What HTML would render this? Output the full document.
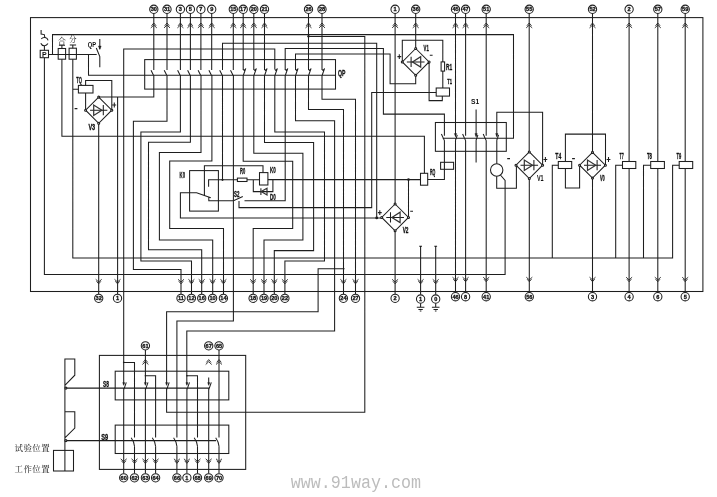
<!DOCTYPE html>
<html lang="zh">
<head>
<meta charset="utf-8">
<title>QP S1 S8 S9 wiring diagram</title>
<style>
html,body{margin:0;padding:0;background:#fff;}
body{width:717px;height:497px;overflow:hidden;}
svg{display:block;will-change:transform;}
.w{fill:none;stroke:#1e1e1e;stroke-width:1.05;stroke-linecap:butt;stroke-linejoin:miter;}
.w .thin{stroke:#222;stroke-width:0.9;}
.w .dot{fill:#1e1e1e;stroke:none;}
.w .fillk{fill:#1e1e1e;stroke-width:0.4;}
.w .di{fill:none;stroke-width:1.2;stroke:#333;}
text{font-family:"Liberation Sans","Noto Sans CJK SC",sans-serif;fill:#111;}
.lb{font-weight:bold;stroke:#111;stroke-width:0.3;}
.lb2{font-weight:bold;}
.tn{font-weight:bold;stroke:#111;stroke-width:0.3;}
.pb{font-weight:bold;}
.cj{font-family:"Liberation Serif","Noto Serif CJK SC",serif;}
.wm{font-family:"Liberation Mono",monospace;fill:#bcbcbc;}
</style>
</head>
<body>
<svg width="717" height="497" viewBox="0 0 717 497">
<g class="w">
<path d="M52.5 54.5 L52.5 34.6 L513.5 34.6 L513.5 138.2 L442.6 138.2 M48.5 54.5 L96.7 54.5 M69.8 44.9 L76.1 44.9 M72.8 44.9 L72.8 48.2 M58.9 45.2 L65 45.2 M61.9 45.2 L61.9 48.5 M44.4 50.3 L44.4 46 M41.1 30 L41.1 34 L44.3 34.6 L44.9 37.8 M44.4 57.7 L44.4 274.4 L505.1 274.4 L505.1 180.4 L500.4 175 M61.9 59.2 L61.9 136.2 L424.4 136.2 L424.4 173.3 M72.8 59.2 L72.8 257.9 L672.6 257.9 L672.6 165.2 L679.2 165.2 M99.8 39 L99.8 49 M96.3 48 L99.8 56.6 L99.8 67.3 M88.5 54.5 L88.5 75.2 L335.5 75.2 M72.8 89.3 L78.4 89.3 M85.6 85.4 L85.6 80.4 L111.8 80.4 L111.8 110.2 M85.6 93 L85.6 110.2 M98.7 97.1 L111.8 110.2 L98.7 123.3 L85.6 110.2 L98.7 97.1 M90.05 110.2 L107.35 110.2 M103.3 105.1 L103.3 115.3 M153.8 75.7 L153.8 96.9 L98.7 96.9 M117.6 96.9 L117.6 294.2 M98.7 123.3 L98.7 294.2 M274.8 69.3 L274.8 49 L123.7 49 L123.7 384.6 M153.8 13.5 L153.8 70 M167 13.5 L167 70 M180.4 13.5 L180.4 70 M190.4 13.5 L190.4 70 M200.9 13.5 L200.9 70 M211.7 13.5 L211.7 70 M233.3 13.5 L233.3 70 M151 70.2 L153.8 75.7 M164.2 70.2 L167 75.7 M177.6 70.2 L180.4 75.7 M187.6 70.2 L190.4 75.7 M198.1 70.2 L200.9 75.7 M208.9 70.2 L211.7 75.7 M219.7 70.2 L222.5 75.7 M230.5 70.2 L233.3 75.7 M243.2 13.5 L243.2 70 M253.8 13.5 L253.8 70 M264.5 13.5 L264.5 70 M308.5 13.5 L308.5 70 M322 13.5 L322 70 M243.2 69.4 L244.1 70.3 L245.6 69 M245.8 68.4 L243.2 75.7 M253.8 69.4 L254.7 70.3 L256.2 69 M256.4 68.4 L253.8 75.7 M264.5 69.4 L265.4 70.3 L266.9 69 M267.1 68.4 L264.5 75.7 M274.8 69.4 L275.7 70.3 L277.2 69 M277.4 68.4 L274.8 75.7 M285.2 69.4 L286.1 70.3 L287.6 69 M287.8 68.4 L285.2 75.7 M295.5 69.4 L296.4 70.3 L297.9 69 M298.1 68.4 L295.5 75.7 M308.5 69.4 L309.4 70.3 L310.9 69 M311.1 68.4 L308.5 75.7 M322 69.4 L322.9 70.3 L324.4 69 M324.6 68.4 L322 75.7 M376.7 217.9 L376.7 43.2 L222.5 43.2 L222.5 70 M285.2 70 L285.2 48.5 L383.4 48.5 L383.4 114.1 L444.4 114.1 L444.4 135.7 M295.5 70 L295.5 53.9 L390.1 53.9 L390.1 83.8 L415.7 83.8 L415.7 75.3 M308.5 36.5 L364.8 36.5 L364.8 412.2 L166.6 412.2 L166.6 388.2 M167 75.7 L167 121.2 L133.4 121.2 L133.4 269.4 L181 269.4 L181 294.2 M180.4 75.7 L180.4 132 L140.9 132 L140.9 261 L191.5 261 L191.5 294.2 M190.4 75.7 L190.4 142.2 L148.5 142.2 L148.5 249.8 L201.7 249.8 L201.7 294.2 M201 75.7 L201 152.5 L159.4 152.5 L159.4 240 L212.7 240 L212.7 294.2 M211.9 75.7 L211.9 161 L169.7 161 L169.7 228.5 L223.5 228.5 L223.5 294.2 M222.5 75.7 L222.5 179.8 M233.4 75.7 L233.4 321 L176.9 321 L176.9 437.6 M243.2 75.7 L243.2 161.3 L292.7 161.3 L292.7 228.5 L253.2 228.5 L253.2 294.2 M253.8 75.7 L253.8 153.3 L302.9 153.3 L302.9 239.9 L264 239.9 L264 294.2 M264.5 75.7 L264.5 142.4 L313.6 142.4 L313.6 250.6 L274.3 250.6 L274.3 294.2 M274.8 75.7 L274.8 132 L324.5 132 L324.5 261 L284.9 261 L284.9 294.2 M285.2 75.7 L285.2 200.8 L244.5 200.8 M295.5 75.7 L295.5 120.7 L334.6 120.7 L334.6 331 L186.8 331 L186.8 384.6 M308.5 75.7 L308.5 109.4 L343.5 109.4 L343.5 294.2 M322 75.7 L322 99.3 L355.5 99.3 L355.5 294.2 M344.6 268.8 L318.1 268.8 L318.1 311.8 L166.6 311.8 L166.6 384.6 M204.4 195.3 L204.4 165.7 L263 165.7 L263 172.6 M381.8 217.9 L180.4 217.9 L180.4 192.7 L196.6 192.7 L210.8 197.8 M208.6 186.8 L208.6 179.8 L237.4 179.8 M247 179.8 L259.5 179.8 M267.9 179.6 L420.5 179.6 M208.8 196.8 L208.8 200.7 L233.5 200.7 L242.8 196.4 M239 201 L239 207.6 L371.7 207.6 L371.7 92.5 L436.2 92.5 M253.3 179.8 L253.3 191.6 L272.9 191.6 L272.9 179.6 M260.9 188.3 L260.9 195 M415.7 48.5 L429.1 61.9 L415.7 75.3 L402.3 61.9 L415.7 48.5 M406.86 61.9 L424.54 61.9 M411.1 56.8 L411.1 67 M415.7 13.5 L415.7 48.5 M402.3 61.9 L402.3 40.2 L442.8 40.2 L442.8 61.9 M442.8 71.1 L442.8 88 M429.1 61.9 L429.1 100.6 L442.3 100.6 L442.3 96.1 M395.1 13.5 L395.1 204 M395.1 204 L408.5 217.4 L395.1 230.8 L381.7 217.4 L395.1 204 M386.26 217.4 L403.94 217.4 M390.5 212.3 L390.5 222.5 M395.1 230.8 L395.1 294.2 M408.5 179.6 L408.5 217.4 M427.7 179.4 L444.4 179.4 L444.4 169.3 M441.4 134 L444.4 140.6 M444.4 140.4 L444.4 169.3 M455.5 13.5 L455.5 136.4 M457.3 134.9 L455.4 140.5 M455.5 140.3 L455.5 292.5 M465.6 13.5 L465.6 135.7 M462.6 134 L465.6 140.6 M465.6 140.4 L465.6 292.5 M476.1 109.6 L476.1 136.4 M477.9 134.9 L476 140.5 M476.1 140.3 L476.1 162.6 M486.2 13.5 L486.2 135.7 M483.2 134 L486.2 140.6 M486.2 140.4 L486.2 292.5 M496.8 136.4 L496.8 112.3 L542.6 112.3 L542.6 165.2 M498.6 134.9 L496.7 140.5 M496.8 140.3 L496.8 163.8 M496.7 176.2 L496.7 188.2 L516.4 188.2 L516.4 165.2 M529.3 151.9 L542.6 165.2 L529.3 178.5 L516 165.2 L529.3 151.9 M520.52 165.2 L538.08 165.2 M533.9 160.1 L533.9 170.3 M529.2 13.5 L529.2 152 M529.3 178.5 L529.3 292.5 M558.3 165.2 L552.3 165.2 L552.3 257.9 M565.4 161.5 L565.4 134.1 L605.5 134.1 L605.5 165.2 M565.4 168.5 L565.4 187.9 L579.6 187.9 L579.6 165.2 M592.5 152.3 L605.4 165.2 L592.5 178.1 L579.6 165.2 L592.5 152.3 M583.99 165.2 L601.01 165.2 M597.1 160.1 L597.1 170.3 M592.5 13.5 L592.5 152.3 M592.5 178.1 L592.5 292.5 M629.1 13.5 L629.1 161.5 M629.1 168.5 L629.1 292.5 M622.5 165.2 L615.7 165.2 L615.7 257.9 M657.8 13.5 L657.8 161.5 M657.8 168.5 L657.8 292.5 M650.7 165.2 L643.5 165.2 L643.5 257.9 M685.2 13.5 L685.2 161.5 M685.2 168.5 L685.2 292.5 M419.2 246.2 L422 246.2 M420.6 246.2 L420.6 294.8 M420.6 303.2 L420.6 307.3 M416.8 307.3 L424.4 307.3 M418.4 309.4 L422.8 309.4 M419.8 311 L421.4 311 M434.3 246.2 L437.1 246.2 M435.7 246.2 L435.7 294.8 M435.7 303.2 L435.7 307.3 M431.9 307.3 L439.5 307.3 M433.5 309.4 L437.9 309.4 M434.9 311 L436.5 311 M66.9 388.1 L209 388.1 M66.9 440.6 L216 440.6 M126.3 382.3 L123.7 389.9 M148 382.3 L145.4 389.9 M169.2 382.3 L166.6 389.9 M189.5 382.3 L186.9 389.9 M211.3 382.3 L208.7 389.9 M123.7 388.1 L123.7 473.6 M123.7 362.4 L134.5 362.4 L134.5 437.6 M145.4 350 L145.4 384.6 M145.4 388.1 L145.4 473.6 M145.4 375.8 L155.6 375.8 L155.6 437.6 M186.9 388.1 L186.9 473.6 M186.9 375.8 L197.5 375.8 L197.5 437.6 M208.7 377.5 L208.7 384.6 M208.7 388.1 L208.7 473.6 M219 350 L219 437.6 M134.5 446.2 L134.5 473.6 M155.6 446.2 L155.6 473.6 M176.9 446.2 L176.9 473.6 M197.5 446.2 L197.5 473.6 M219 446.2 L219 473.6 M64.9 471 L64.9 358.9 L74.8 358.9 L74.8 375.2 L64.9 385.4 M64.9 411.7 L74.8 411.7 L74.8 428.1 L64.9 437.8 M74.6 108.6 L77.4 108.6 M112.4 105 L116.2 105 M114.3 102.6 L114.3 107.4 M397.4 56.6 L401.2 56.6 M399.3 54.2 L399.3 59 M429.8 55.3 L432.6 55.3 M377.9 212.6 L381.7 212.6 M379.8 210.2 L379.8 215 M410.2 211.3 L413 211.3 M507.2 158.6 L510 158.6 M543.5 159.5 L547.3 159.5 M545.4 157.1 L545.4 161.9 M572.1 158.6 L574.9 158.6 M606.6 159.5 L610.4 159.5 M608.5 157.1 L608.5 161.9"/>
<path class="thin" d="M151.5 25.8 L153.8 23 L156.1 25.8 M150.8 27.9 L153.8 25.1 L156.8 27.9 M164.7 25.8 L167 23 L169.3 25.8 M164 27.9 L167 25.1 L170 27.9 M178.1 25.8 L180.4 23 L182.7 25.8 M177.4 27.9 L180.4 25.1 L183.4 27.9 M188.1 25.8 L190.4 23 L192.7 25.8 M187.4 27.9 L190.4 25.1 L193.4 27.9 M198.6 25.8 L200.9 23 L203.2 25.8 M197.9 27.9 L200.9 25.1 L203.9 27.9 M209.4 25.8 L211.7 23 L214 25.8 M208.7 27.9 L211.7 25.1 L214.7 27.9 M231 25.8 L233.3 23 L235.6 25.8 M230.3 27.9 L233.3 25.1 L236.3 27.9 M240.9 25.8 L243.2 23 L245.5 25.8 M240.2 27.9 L243.2 25.1 L246.2 27.9 M251.5 25.8 L253.8 23 L256.1 25.8 M250.8 27.9 L253.8 25.1 L256.8 27.9 M262.2 25.8 L264.5 23 L266.8 25.8 M261.5 27.9 L264.5 25.1 L267.5 27.9 M306.2 25.8 L308.5 23 L310.8 25.8 M305.5 27.9 L308.5 25.1 L311.5 27.9 M319.7 25.8 L322 23 L324.3 25.8 M319 27.9 L322 25.1 L325 27.9 M392.8 25.8 L395.1 23 L397.4 25.8 M392.1 27.9 L395.1 25.1 L398.1 27.9 M413.4 25.8 L415.7 23 L418 25.8 M412.7 27.9 L415.7 25.1 L418.7 27.9 M453.2 25.8 L455.5 23 L457.8 25.8 M452.5 27.9 L455.5 25.1 L458.5 27.9 M463.3 25.8 L465.6 23 L467.9 25.8 M462.6 27.9 L465.6 25.1 L468.6 27.9 M483.9 25.8 L486.2 23 L488.5 25.8 M483.2 27.9 L486.2 25.1 L489.2 27.9 M526.9 25.8 L529.2 23 L531.5 25.8 M526.2 27.9 L529.2 25.1 L532.2 27.9 M590.2 25.8 L592.5 23 L594.8 25.8 M589.5 27.9 L592.5 25.1 L595.5 27.9 M626.8 25.8 L629.1 23 L631.4 25.8 M626.1 27.9 L629.1 25.1 L632.1 27.9 M655.5 25.8 L657.8 23 L660.1 25.8 M654.8 27.9 L657.8 25.1 L660.8 27.9 M682.9 25.8 L685.2 23 L687.5 25.8 M682.2 27.9 L685.2 25.1 L688.2 27.9 M95.7 279.3 L98.7 282 L101.7 279.3 M96.5 281.3 L98.7 283.8 L100.9 281.3 M114.5 279.3 L117.5 282 L120.5 279.3 M115.3 281.3 L117.5 283.8 L119.7 281.3 M178 279.3 L181 282 L184 279.3 M178.8 281.3 L181 283.8 L183.2 281.3 M188.4 279.3 L191.4 282 L194.4 279.3 M189.2 281.3 L191.4 283.8 L193.6 281.3 M198.7 279.3 L201.7 282 L204.7 279.3 M199.5 281.3 L201.7 283.8 L203.9 281.3 M209.6 279.3 L212.6 282 L215.6 279.3 M210.4 281.3 L212.6 283.8 L214.8 281.3 M220.4 279.3 L223.4 282 L226.4 279.3 M221.2 281.3 L223.4 283.8 L225.6 281.3 M250.1 279.3 L253.1 282 L256.1 279.3 M250.9 281.3 L253.1 283.8 L255.3 281.3 M261 279.3 L264 282 L267 279.3 M261.8 281.3 L264 283.8 L266.2 281.3 M271.3 279.3 L274.3 282 L277.3 279.3 M272.1 281.3 L274.3 283.8 L276.5 281.3 M281.9 279.3 L284.9 282 L287.9 279.3 M282.7 281.3 L284.9 283.8 L287.1 281.3 M340.4 279.3 L343.4 282 L346.4 279.3 M341.2 281.3 L343.4 283.8 L345.6 281.3 M352.5 279.3 L355.5 282 L358.5 279.3 M353.3 281.3 L355.5 283.8 L357.7 281.3 M392.1 279.3 L395.1 282 L398.1 279.3 M392.9 281.3 L395.1 283.8 L397.3 281.3 M417.6 279.3 L420.6 282 L423.6 279.3 M418.4 281.3 L420.6 283.8 L422.8 281.3 M432.7 279.3 L435.7 282 L438.7 279.3 M433.5 281.3 L435.7 283.8 L437.9 281.3 M452.5 277.2 L455.5 279.9 L458.5 277.2 M453.3 279.2 L455.5 281.7 L457.7 279.2 M462.6 277.2 L465.6 279.9 L468.6 277.2 M463.4 279.2 L465.6 281.7 L467.8 279.2 M483.2 277.2 L486.2 279.9 L489.2 277.2 M484 279.2 L486.2 281.7 L488.4 279.2 M526.3 277.2 L529.3 279.9 L532.3 277.2 M527.1 279.2 L529.3 281.7 L531.5 279.2 M589.5 277.2 L592.5 279.9 L595.5 277.2 M590.3 279.2 L592.5 281.7 L594.7 279.2 M626.1 277.2 L629.1 279.9 L632.1 277.2 M626.9 279.2 L629.1 281.7 L631.3 279.2 M654.8 277.2 L657.8 279.9 L660.8 277.2 M655.6 279.2 L657.8 281.7 L660 279.2 M682.2 277.2 L685.2 279.9 L688.2 277.2 M683 279.2 L685.2 281.7 L687.4 279.2 M143.1 362.4 L145.4 359.6 L147.7 362.4 M142.4 364.5 L145.4 361.7 L148.4 364.5 M206.4 362.4 L208.7 359.6 L211 362.4 M205.7 364.5 L208.7 361.7 L211.7 364.5 M216.7 362.4 L219 359.6 L221.3 362.4 M216 364.5 L219 361.7 L222 364.5 M120.7 458.8 L123.7 461.5 L126.7 458.8 M121.5 460.8 L123.7 463.3 L125.9 460.8 M131.5 458.8 L134.5 461.5 L137.5 458.8 M132.3 460.8 L134.5 463.3 L136.7 460.8 M142.4 458.8 L145.4 461.5 L148.4 458.8 M143.2 460.8 L145.4 463.3 L147.6 460.8 M152.6 458.8 L155.6 461.5 L158.6 458.8 M153.4 460.8 L155.6 463.3 L157.8 460.8 M173.9 458.8 L176.9 461.5 L179.9 458.8 M174.7 460.8 L176.9 463.3 L179.1 460.8 M183.9 458.8 L186.9 461.5 L189.9 458.8 M184.7 460.8 L186.9 463.3 L189.1 460.8 M194.5 458.8 L197.5 461.5 L200.5 458.8 M195.3 460.8 L197.5 463.3 L199.7 460.8 M205.7 458.8 L208.7 461.5 L211.7 458.8 M206.5 460.8 L208.7 463.3 L210.9 460.8 M216 458.8 L219 461.5 L222 458.8 M216.8 460.8 L219 463.3 L221.2 460.8"/>
<rect x="30.5" y="17.6" width="672.4" height="273.9"/>
<rect x="40.2" y="50.3" width="8.3" height="7.4"/>
<rect x="58.2" y="48.5" width="7.4" height="10.7"/>
<rect x="69.1" y="48.2" width="7.3" height="11"/>
<path d="M41.3 38.9 A3.9 3.9 0 0 1 48.1 40.3"/>
<path d="M47.9 43.6 A3.9 3.9 0 0 1 40.8 43.2"/>
<path class="fillk" d="M98.4 46.0 L99.8 49.6 L101.2 46.0 Z"/>
<rect x="78.4" y="85.4" width="14.6" height="7.6"/>
<circle cx="98.7" cy="97.1" r="1" fill="#fff"/>
<circle cx="111.8" cy="110.2" r="1" fill="#fff"/>
<circle cx="98.7" cy="123.3" r="1" fill="#fff"/>
<circle cx="85.6" cy="110.2" r="1" fill="#fff"/>
<path class="di" d="M93.7 105 L93.7 115.4 L101.9 110.2 Z"/>
<rect x="144.7" y="59.6" width="190.8" height="29.5"/>
<circle class="dot" cx="308.5" cy="36.3" r="1.2"/>
<rect x="189.6" y="170.6" width="28.8" height="40.5"/>
<circle class="dot" cx="376.7" cy="217.9" r="1.4"/>
<circle class="dot" cx="222.5" cy="179.8" r="1.1"/>
<rect x="237.4" y="178.1" width="9.6" height="3.4"/>
<rect x="259.5" y="172.6" width="8.4" height="12.4"/>
<path class="di" d="M267 188.3 L267 195 L261.2 191.6 Z"/>
<circle cx="415.7" cy="48.5" r="1" fill="#fff"/>
<circle cx="429.1" cy="61.9" r="1" fill="#fff"/>
<circle cx="415.7" cy="75.3" r="1" fill="#fff"/>
<circle cx="402.3" cy="61.9" r="1" fill="#fff"/>
<path class="di" d="M420.7 56.7 L420.7 67.1 L412.5 61.9 Z"/>
<rect x="441.1" y="61.9" width="3.5" height="9.2"/>
<rect x="436.2" y="88" width="13.3" height="8.1"/>
<circle cx="395.1" cy="204" r="1" fill="#fff"/>
<circle cx="408.5" cy="217.4" r="1" fill="#fff"/>
<circle cx="395.1" cy="230.8" r="1" fill="#fff"/>
<circle cx="381.7" cy="217.4" r="1" fill="#fff"/>
<path class="di" d="M400.1 212.2 L400.1 222.6 L391.9 217.4 Z"/>
<circle class="dot" cx="408.5" cy="179.6" r="1.3"/>
<rect x="420.5" y="173.3" width="7.2" height="11.9"/>
<rect x="440.6" y="162.3" width="13" height="7"/>
<rect x="435.4" y="122.5" width="70.9" height="28.8"/>
<path class="fillk" d="M454.3 133.6 L455.5 136.6 L456.7 133.6 Z"/>
<path class="fillk" d="M474.9 133.6 L476.1 136.6 L477.3 133.6 Z"/>
<path class="fillk" d="M495.6 133.6 L496.8 136.6 L498 133.6 Z"/>
<circle cx="496.7" cy="170" r="6.2"/>
<circle cx="529.3" cy="151.9" r="1" fill="#fff"/>
<circle cx="542.6" cy="165.2" r="1" fill="#fff"/>
<circle cx="529.3" cy="178.5" r="1" fill="#fff"/>
<circle cx="516" cy="165.2" r="1" fill="#fff"/>
<path class="di" d="M524.3 160 L524.3 170.4 L532.5 165.2 Z"/>
<rect x="558.3" y="161.5" width="13.4" height="7"/>
<circle cx="592.5" cy="152.3" r="1" fill="#fff"/>
<circle cx="605.4" cy="165.2" r="1" fill="#fff"/>
<circle cx="592.5" cy="178.1" r="1" fill="#fff"/>
<circle cx="579.6" cy="165.2" r="1" fill="#fff"/>
<path class="di" d="M587.5 160 L587.5 170.4 L595.7 165.2 Z"/>
<rect x="622.5" y="161.5" width="13.3" height="7"/>
<rect x="650.7" y="161.5" width="13.7" height="7"/>
<rect x="679.2" y="161.5" width="13.5" height="7"/>
<circle cx="98.7" cy="298.3" r="4.15" fill="#fff"/>
<circle cx="117.5" cy="298.3" r="4.15" fill="#fff"/>
<circle cx="181" cy="298.3" r="4.15" fill="#fff"/>
<circle cx="191.4" cy="298.3" r="4.15" fill="#fff"/>
<circle cx="201.7" cy="298.3" r="4.15" fill="#fff"/>
<circle cx="212.6" cy="298.3" r="4.15" fill="#fff"/>
<circle cx="223.4" cy="298.3" r="4.15" fill="#fff"/>
<circle cx="253.1" cy="298.3" r="4.15" fill="#fff"/>
<circle cx="264" cy="298.3" r="4.15" fill="#fff"/>
<circle cx="274.3" cy="298.3" r="4.15" fill="#fff"/>
<circle cx="284.9" cy="298.3" r="4.15" fill="#fff"/>
<circle cx="343.4" cy="298.3" r="4.15" fill="#fff"/>
<circle cx="355.5" cy="298.3" r="4.15" fill="#fff"/>
<circle cx="395.1" cy="298.3" r="4.15" fill="#fff"/>
<circle cx="420.6" cy="299" r="4.15" fill="#fff"/>
<circle cx="435.7" cy="299" r="4.15" fill="#fff"/>
<circle cx="455.5" cy="296.7" r="4.15" fill="#fff"/>
<circle cx="465.6" cy="296.7" r="4.15" fill="#fff"/>
<circle cx="486.2" cy="296.7" r="4.15" fill="#fff"/>
<circle cx="529.3" cy="296.7" r="4.15" fill="#fff"/>
<circle cx="592.5" cy="296.7" r="4.15" fill="#fff"/>
<circle cx="629.1" cy="296.7" r="4.15" fill="#fff"/>
<circle cx="657.8" cy="296.7" r="4.15" fill="#fff"/>
<circle cx="685.2" cy="296.7" r="4.15" fill="#fff"/>
<circle cx="153.8" cy="9.3" r="4.15" fill="#fff"/>
<circle cx="167" cy="9.3" r="4.15" fill="#fff"/>
<circle cx="180.4" cy="9.3" r="4.15" fill="#fff"/>
<circle cx="190.4" cy="9.3" r="4.15" fill="#fff"/>
<circle cx="200.9" cy="9.3" r="4.15" fill="#fff"/>
<circle cx="211.7" cy="9.3" r="4.15" fill="#fff"/>
<circle cx="233.3" cy="9.3" r="4.15" fill="#fff"/>
<circle cx="243.2" cy="9.3" r="4.15" fill="#fff"/>
<circle cx="253.8" cy="9.3" r="4.15" fill="#fff"/>
<circle cx="264.5" cy="9.3" r="4.15" fill="#fff"/>
<circle cx="308.5" cy="9.3" r="4.15" fill="#fff"/>
<circle cx="322" cy="9.3" r="4.15" fill="#fff"/>
<circle cx="395.1" cy="9.3" r="4.15" fill="#fff"/>
<circle cx="415.7" cy="9.3" r="4.15" fill="#fff"/>
<circle cx="455.5" cy="9.3" r="4.15" fill="#fff"/>
<circle cx="465.6" cy="9.3" r="4.15" fill="#fff"/>
<circle cx="486.2" cy="9.3" r="4.15" fill="#fff"/>
<circle cx="529.2" cy="9.3" r="4.15" fill="#fff"/>
<circle cx="592.5" cy="9.3" r="4.15" fill="#fff"/>
<circle cx="629.1" cy="9.3" r="4.15" fill="#fff"/>
<circle cx="657.8" cy="9.3" r="4.15" fill="#fff"/>
<circle cx="685.2" cy="9.3" r="4.15" fill="#fff"/>
<rect x="99.4" y="355.4" width="146.3" height="114"/>
<rect x="115.2" y="371.2" width="113.6" height="28.7"/>
<rect x="115.2" y="425.1" width="113.6" height="28.4"/>
<path class="fillk" d="M122.7 382.6 L123.7 385.4 L124.7 382.6 Z"/>
<path class="fillk" d="M144.4 382.6 L145.4 385.4 L146.4 382.6 Z"/>
<path class="fillk" d="M165.6 382.6 L166.6 385.4 L167.6 382.6 Z"/>
<path class="fillk" d="M185.9 382.6 L186.9 385.4 L187.9 382.6 Z"/>
<path class="fillk" d="M207.7 382.6 L208.7 385.4 L209.7 382.6 Z"/>
<circle class="dot" cx="123.7" cy="362.4" r="0.8"/>
<circle class="dot" cx="145.4" cy="375.8" r="0.8"/>
<circle class="dot" cx="186.9" cy="375.8" r="0.8"/>
<path d="M131.2 437.8 Q133.9 441.5 134.5 446.2"/>
<path d="M152.3 437.8 Q155 441.5 155.6 446.2"/>
<path d="M173.6 437.8 Q176.3 441.5 176.9 446.2"/>
<path d="M194.2 437.8 Q196.9 441.5 197.5 446.2"/>
<path d="M215.7 437.8 Q218.4 441.5 219 446.2"/>
<circle cx="145.4" cy="345.8" r="4.15" fill="#fff"/>
<circle cx="208.7" cy="345.8" r="4.15" fill="#fff"/>
<circle cx="219" cy="345.8" r="4.15" fill="#fff"/>
<circle cx="123.7" cy="477.8" r="4.15" fill="#fff"/>
<circle cx="134.5" cy="477.8" r="4.15" fill="#fff"/>
<circle cx="145.4" cy="477.8" r="4.15" fill="#fff"/>
<circle cx="155.6" cy="477.8" r="4.15" fill="#fff"/>
<circle cx="176.9" cy="477.8" r="4.15" fill="#fff"/>
<circle cx="186.9" cy="477.8" r="4.15" fill="#fff"/>
<circle cx="197.5" cy="477.8" r="4.15" fill="#fff"/>
<circle cx="208.7" cy="477.8" r="4.15" fill="#fff"/>
<circle cx="219" cy="477.8" r="4.15" fill="#fff"/>
<circle cx="65.9" cy="388.1" r="1" fill="#fff"/>
<circle cx="65.9" cy="440.6" r="1" fill="#fff"/>
<rect x="53.5" y="450.4" width="20" height="20.6"/>
</g>
<text class="tn" x="98.7" y="300.32" font-size="5.6" text-anchor="middle">32</text>
<text class="tn" x="117.5" y="300.32" font-size="5.6" text-anchor="middle">1</text>
<text class="tn" x="181" y="300.32" font-size="5.6" text-anchor="middle">11</text>
<text class="tn" x="191.4" y="300.32" font-size="5.6" text-anchor="middle">12</text>
<text class="tn" x="201.7" y="300.32" font-size="5.6" text-anchor="middle">16</text>
<text class="tn" x="212.6" y="300.32" font-size="5.6" text-anchor="middle">10</text>
<text class="tn" x="223.4" y="300.32" font-size="5.6" text-anchor="middle">14</text>
<text class="tn" x="253.1" y="300.32" font-size="5.6" text-anchor="middle">18</text>
<text class="tn" x="264" y="300.32" font-size="5.6" text-anchor="middle">19</text>
<text class="tn" x="274.3" y="300.32" font-size="5.6" text-anchor="middle">20</text>
<text class="tn" x="284.9" y="300.32" font-size="5.6" text-anchor="middle">22</text>
<text class="tn" x="343.4" y="300.32" font-size="5.6" text-anchor="middle">24</text>
<text class="tn" x="355.5" y="300.32" font-size="5.6" text-anchor="middle">27</text>
<text class="tn" x="395.1" y="300.32" font-size="5.6" text-anchor="middle">2</text>
<text class="tn" x="420.6" y="301.02" font-size="5.6" text-anchor="middle">1</text>
<text class="tn" x="435.7" y="301.02" font-size="5.6" text-anchor="middle">0</text>
<text class="tn" x="455.5" y="298.72" font-size="5.6" text-anchor="middle">46</text>
<text class="tn" x="465.6" y="298.72" font-size="5.6" text-anchor="middle">8</text>
<text class="tn" x="486.2" y="298.72" font-size="5.6" text-anchor="middle">41</text>
<text class="tn" x="529.3" y="298.72" font-size="5.6" text-anchor="middle">56</text>
<text class="tn" x="592.5" y="298.72" font-size="5.6" text-anchor="middle">3</text>
<text class="tn" x="629.1" y="298.72" font-size="5.6" text-anchor="middle">4</text>
<text class="tn" x="657.8" y="298.72" font-size="5.6" text-anchor="middle">6</text>
<text class="tn" x="685.2" y="298.72" font-size="5.6" text-anchor="middle">5</text>
<text class="tn" x="153.8" y="11.32" font-size="5.6" text-anchor="middle">30</text>
<text class="tn" x="167" y="11.32" font-size="5.6" text-anchor="middle">31</text>
<text class="tn" x="180.4" y="11.32" font-size="5.6" text-anchor="middle">3</text>
<text class="tn" x="190.4" y="11.32" font-size="5.6" text-anchor="middle">5</text>
<text class="tn" x="200.9" y="11.32" font-size="5.6" text-anchor="middle">7</text>
<text class="tn" x="211.7" y="11.32" font-size="5.6" text-anchor="middle">9</text>
<text class="tn" x="233.3" y="11.32" font-size="5.6" text-anchor="middle">15</text>
<text class="tn" x="243.2" y="11.32" font-size="5.6" text-anchor="middle">17</text>
<text class="tn" x="253.8" y="11.32" font-size="5.6" text-anchor="middle">20</text>
<text class="tn" x="264.5" y="11.32" font-size="5.6" text-anchor="middle">21</text>
<text class="tn" x="308.5" y="11.32" font-size="5.6" text-anchor="middle">26</text>
<text class="tn" x="322" y="11.32" font-size="5.6" text-anchor="middle">28</text>
<text class="tn" x="395.1" y="11.32" font-size="5.6" text-anchor="middle">1</text>
<text class="tn" x="415.7" y="11.32" font-size="5.6" text-anchor="middle">36</text>
<text class="tn" x="455.5" y="11.32" font-size="5.6" text-anchor="middle">45</text>
<text class="tn" x="465.6" y="11.32" font-size="5.6" text-anchor="middle">47</text>
<text class="tn" x="486.2" y="11.32" font-size="5.6" text-anchor="middle">51</text>
<text class="tn" x="529.2" y="11.32" font-size="5.6" text-anchor="middle">55</text>
<text class="tn" x="592.5" y="11.32" font-size="5.6" text-anchor="middle">52</text>
<text class="tn" x="629.1" y="11.32" font-size="5.6" text-anchor="middle">2</text>
<text class="tn" x="657.8" y="11.32" font-size="5.6" text-anchor="middle">57</text>
<text class="tn" x="685.2" y="11.32" font-size="5.6" text-anchor="middle">59</text>
<text class="tn" x="145.4" y="347.82" font-size="5.6" text-anchor="middle">61</text>
<text class="tn" x="208.7" y="347.82" font-size="5.6" text-anchor="middle">67</text>
<text class="tn" x="219" y="347.82" font-size="5.6" text-anchor="middle">65</text>
<text class="tn" x="123.7" y="479.82" font-size="5.6" text-anchor="middle">60</text>
<text class="tn" x="134.5" y="479.82" font-size="5.6" text-anchor="middle">62</text>
<text class="tn" x="145.4" y="479.82" font-size="5.6" text-anchor="middle">63</text>
<text class="tn" x="155.6" y="479.82" font-size="5.6" text-anchor="middle">64</text>
<text class="tn" x="176.9" y="479.82" font-size="5.6" text-anchor="middle">66</text>
<text class="tn" x="186.9" y="479.82" font-size="5.6" text-anchor="middle">1</text>
<text class="tn" x="197.5" y="479.82" font-size="5.6" text-anchor="middle">68</text>
<text class="tn" x="208.7" y="479.82" font-size="5.6" text-anchor="middle">69</text>
<text class="tn" x="219" y="479.82" font-size="5.6" text-anchor="middle">70</text>
<text class="lb2" x="87.7" y="46.5" font-size="7.4" textLength="8.4" lengthAdjust="spacingAndGlyphs">QP</text>
<text class="lb" x="338" y="76.3" font-size="8.2" textLength="7.4" lengthAdjust="spacingAndGlyphs">QP</text>
<text class="lb" x="76.3" y="83.2" font-size="8.4" textLength="5.6" lengthAdjust="spacingAndGlyphs">TQ</text>
<text class="lb" x="88.4" y="130.2" font-size="8.3" textLength="6.8" lengthAdjust="spacingAndGlyphs">V3</text>
<text class="lb" x="423.6" y="51.3" font-size="8.4" textLength="5.2" lengthAdjust="spacingAndGlyphs">V1</text>
<text class="lb" x="446" y="70.2" font-size="8.4" textLength="6.2" lengthAdjust="spacingAndGlyphs">R1</text>
<text class="lb" x="447.2" y="84.4" font-size="7.6" textLength="4.8" lengthAdjust="spacingAndGlyphs">T1</text>
<text class="lb2" x="471" y="104" font-size="7.4" textLength="8.2" lengthAdjust="spacingAndGlyphs">S1</text>
<text class="lb" x="179.6" y="177.7" font-size="8.4" textLength="5.4" lengthAdjust="spacingAndGlyphs">K0</text>
<text class="lb" x="240" y="173.8" font-size="8.4" textLength="5.2" lengthAdjust="spacingAndGlyphs">R0</text>
<text class="lb" x="270" y="173.1" font-size="8.4" textLength="5.8" lengthAdjust="spacingAndGlyphs">K0</text>
<text class="lb" x="270" y="200" font-size="8.4" textLength="5.8" lengthAdjust="spacingAndGlyphs">D0</text>
<text class="lb" x="234.1" y="196.9" font-size="8.4" textLength="5.4" lengthAdjust="spacingAndGlyphs">S2</text>
<text class="lb" x="430" y="174.7" font-size="8.4" textLength="5.4" lengthAdjust="spacingAndGlyphs">RQ</text>
<text class="lb" x="402.7" y="232.7" font-size="8.4" textLength="5.8" lengthAdjust="spacingAndGlyphs">V2</text>
<text class="lb2" x="536.9" y="181" font-size="8.2" textLength="6.7" lengthAdjust="spacingAndGlyphs">V1</text>
<text class="lb" x="555.3" y="158.6" font-size="8.4" textLength="5.9" lengthAdjust="spacingAndGlyphs">T4</text>
<text class="lb" x="600" y="181" font-size="8.4" textLength="4.8" lengthAdjust="spacingAndGlyphs">V0</text>
<text class="lb" x="619.6" y="158.7" font-size="8.4" textLength="4.2" lengthAdjust="spacingAndGlyphs">T7</text>
<text class="lb" x="646.9" y="158.7" font-size="8.4" textLength="5" lengthAdjust="spacingAndGlyphs">T8</text>
<text class="lb" x="676.5" y="158.7" font-size="8.4" textLength="4.7" lengthAdjust="spacingAndGlyphs">T9</text>
<text class="lb" x="103.1" y="387" font-size="8.5" textLength="5.9" lengthAdjust="spacingAndGlyphs">S8</text>
<text class="lb" x="101.2" y="440.2" font-size="8.5" textLength="7" lengthAdjust="spacingAndGlyphs">S9</text>
<text class="pb" x="44.4" y="56.6" font-size="7" text-anchor="middle">P</text>
<text class="cj" x="61.9" y="43.6" font-size="8.2" text-anchor="middle" fill="#666">合</text>
<text class="cj" x="72.9" y="42.2" font-size="7.6" text-anchor="middle" fill="#777">分</text>
<text class="cj" x="14.5" y="451.4" font-size="8.5" textLength="35.3" lengthAdjust="spacing" fill="#666">试验位置</text>
<text class="cj" x="14.5" y="472.0" font-size="8.5" textLength="35.3" lengthAdjust="spacing" fill="#666">工作位置</text>
<text class="wm" x="290.8" y="488.4" font-size="17.6" textLength="130.2" lengthAdjust="spacingAndGlyphs">www.91way.com</text>
</svg>
</body>
</html>
